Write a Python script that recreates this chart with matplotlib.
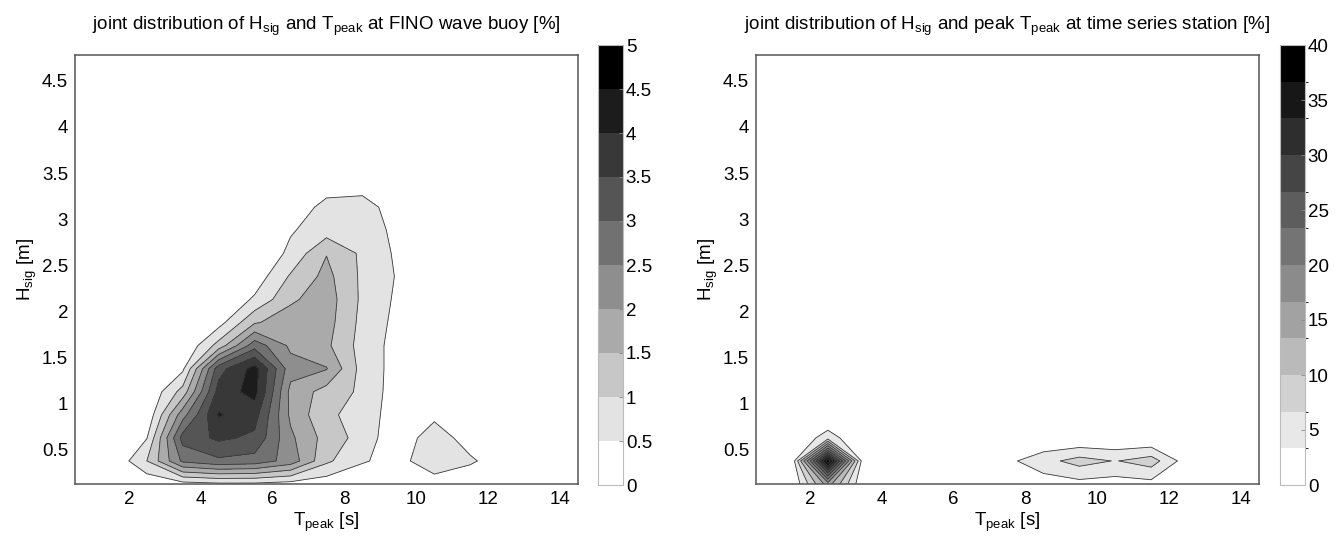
import numpy as np
import matplotlib
matplotlib.use("Agg")
import matplotlib.pyplot as plt
from matplotlib.colors import ListedColormap, BoundaryNorm

plt.rcParams['font.family'] = ['Liberation Sans', 'DejaVu Sans']

# ---- grid (bin centres) ----
T_nodes = [0.5, 1.5, 2.5, 3.5, 4.5, 5.5, 6.5, 7.5, 8.5, 9.5, 10.5, 11.5, 12.5, 13.5, 14.5]
H_nodes = [0.13, 0.38, 0.63, 0.88, 1.13, 1.38, 1.63, 1.88, 2.13, 2.38,
           2.63, 2.88, 3.13, 3.38, 3.63, 3.88, 4.13, 4.38, 4.63, 4.78]

# ---- joint distribution at FINO wave buoy [%] (rows: H, cols: T) ----
fino_pct = [
    [0, 0, 0.10, 0.30, 0.40, 0.40, 0.30, 0.20, 0.10, 0.00, 0.20, 0.00, 0, 0, 0],
    [0, 0, 1.00, 2.60, 2.90, 2.80, 2.30, 1.10, 0.55, 0.30, 0.90, 0.60, 0.10, 0, 0],
    [0, 0, 0.48, 3.20, 3.60, 3.40, 2.10, 1.30, 0.80, 0.10, 0.85, 0.20, 0, 0, 0],
    [0, 0, 0.10, 2.30, 4.05, 3.70, 1.90, 1.10, 0.80, 0.20, 0.35, 0, 0, 0, 0],
    [0, 0, 0, 1.20, 3.70, 4.20, 1.85, 1.30, 0.90, 0.20, 0, 0, 0, 0, 0],
    [0, 0, 0, 0.40, 3.30, 4.20, 2.20, 2.03, 0.80, 0.30, 0, 0, 0, 0, 0],
    [0, 0, 0, 0, 1.20, 2.80, 1.90, 1.60, 0.80, 0.30, 0, 0, 0, 0, 0],
    [0, 0, 0, 0, 0.30, 1.45, 1.75, 1.70, 0.85, 0.35, 0, 0, 0, 0, 0],
    [0, 0, 0, 0, 0, 0.58, 1.42, 1.75, 0.90, 0.40, 0, 0, 0, 0, 0],
    [0, 0, 0, 0, 0, 0.20, 1.06, 1.65, 0.90, 0.45, 0, 0, 0, 0, 0],
    [0, 0, 0, 0, 0, 0, 0.625, 1.48, 0.90, 0.40, 0, 0, 0, 0, 0],
    [0, 0, 0, 0, 0, 0, 0.45, 0.77, 0.80, 0.35, 0, 0, 0, 0, 0],
    [0, 0, 0, 0, 0, 0, 0.10, 0.70, 0.75, 0.20, 0, 0, 0, 0, 0],
    [0, 0, 0, 0, 0, 0, 0, 0.20, 0.25, 0, 0, 0, 0, 0, 0],
    [0] * 15, [0] * 15, [0] * 15, [0] * 15, [0] * 15, [0] * 15,
]

# ---- joint distribution at time series station [%] ----
station_pct = [
    [0, 0, 15.0, 0, 0, 0, 0, 0, 1.5, 2.2, 1.8, 2.2, 0.5, 0, 0],
    [0, 0.6, 39.0, 0.6, 0, 0, 0, 2.5, 5.5, 8.0, 6.5, 8.3, 1.5, 0, 0],
    [0, 0, 5.0, 0, 0, 0, 0, 0, 0, 0, 0, 0, 0, 0, 0],
    [0] * 15, [0] * 15, [0] * 15, [0] * 15, [0] * 15, [0] * 15, [0] * 15,
    [0] * 15, [0] * 15, [0] * 15, [0] * 15, [0] * 15, [0] * 15, [0] * 15,
    [0] * 15, [0] * 15, [0] * 15,
]

fino_levels = [0, 0.5, 1, 1.5, 2, 2.5, 3, 3.5, 4, 4.5, 5]
fino_ticks = [0, 0.5, 1, 1.5, 2, 2.5, 3, 3.5, 4, 4.5, 5]
station_levels = list(np.linspace(0, 40, 13))
station_ticks = [0, 5, 10, 15, 20, 25, 30, 35, 40]
x_ticks = [2, 4, 6, 8, 10, 12, 14]
y_ticks = [0.5, 1, 1.5, 2, 2.5, 3, 3.5, 4, 4.5]

titles = [r"joint distribution of $\mathregular{H_{sig}}$ and $\mathregular{T_{peak}}$ at FINO wave buoy [%]",
          r"joint distribution of $\mathregular{H_{sig}}$ and peak $\mathregular{T_{peak}}$ at time series station [%]"]

W, H = 1341, 538
fig = plt.figure(figsize=(W / 100, H / 100), dpi=100)

def fx(px):
    return px / W

def fy(py):
    return 1 - py / H

ax_pos = [(75, 578), (756, 1259)]
cb_pos = [(598, 623), (1280, 1305)]
ax_top, ax_bot = 55, 484
cb_top, cb_bot = 45, 485

FS = 13.5
data = [(fino_pct, fino_levels, fino_ticks), (station_pct, station_levels, station_ticks)]
TT, HH = np.meshgrid(T_nodes, H_nodes)

for i, (Z, levels, cticks) in enumerate(data):
    Z = np.array(Z, dtype=float)
    x0, x1 = ax_pos[i]
    ax = fig.add_axes([fx(x0), fy(ax_bot), fx(x1) - fx(x0), fy(ax_top) - fy(ax_bot)])
    n = len(levels) - 1
    cmap = ListedColormap([plt.cm.gray(1 - k / (n - 1)) for k in range(n)])
    norm = BoundaryNorm(levels, n)
    cs = ax.contourf(TT, HH, Z, levels=levels, cmap=cmap, norm=norm)
    ax.contour(TT, HH, Z, levels=levels[1:], colors='#3a3a3a', linewidths=0.6)
    ax.set_xlim(T_nodes[0], T_nodes[-1])
    ax.set_ylim(H_nodes[0], H_nodes[-1])
    ax.set_xticks(x_ticks)
    ax.set_yticks(y_ticks)
    ax.set_yticklabels([f"{v:g}" for v in y_ticks])
    ax.tick_params(length=0, labelsize=FS, pad=5)
    for s in ax.spines.values():
        s.set_color('#555555')
        s.set_linewidth(1.1)
    ax.set_xlabel(r"$\mathregular{T_{peak}}$ [s]", fontsize=FS, labelpad=2)
    ax.set_ylabel(r"$\mathregular{H_{sig}}$ [m]", fontsize=FS, labelpad=2)
    ax.set_title(titles[i], fontsize=13.5, pad=18)

    c0, c1 = cb_pos[i]
    cax = fig.add_axes([fx(c0), fy(cb_bot), fx(c1) - fx(c0), fy(cb_top) - fy(cb_bot)])
    cb = fig.colorbar(cs, cax=cax, ticks=cticks)
    cb.ax.set_yticklabels([f"{v:g}" for v in cticks])
    cb.ax.tick_params(length=3, width=0.6, direction='in', labelsize=FS, pad=2, color='#888888')
    cb.outline.set_edgecolor('#bbbbbb')
    cb.outline.set_linewidth(0.8)

fig.savefig("out.png", dpi=100)
